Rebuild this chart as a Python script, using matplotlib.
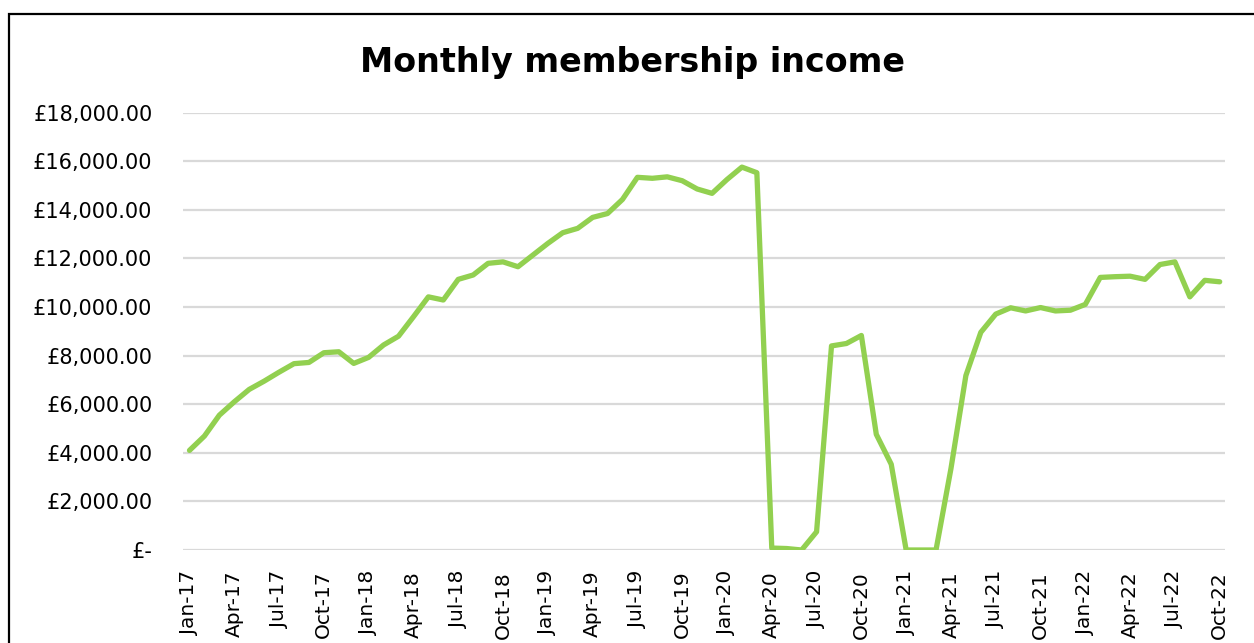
import matplotlib
matplotlib.use("Agg")
import matplotlib.pyplot as plt
from matplotlib.patches import Rectangle
from matplotlib.ticker import FuncFormatter

# month labels, Jan-17 .. Oct-22
month_names = ["Jan", "Feb", "Mar", "Apr", "May", "Jun", "Jul", "Aug", "Sep", "Oct", "Nov", "Dec"]
years = [17, 18, 19, 20, 21, 22]
months = []
for yr in years:
    for m in month_names:
        months.append(m + "-" + str(yr))
months = months[:70]

# monthly membership income in GBP
income = [4100, 4690, 5550, 6100, 6610, 6950, 7320, 7670, 7720, 8120, 8160, 7680,
          7930, 8440, 8800, 9600, 10420, 10290, 11140, 11320, 11800, 11860, 11660, 12140,
          12620, 13060, 13240, 13690, 13850, 14430, 15340, 15300, 15360, 15200, 14860, 14680,
          15250, 15760, 15530, 80, 60, 0, 750, 8400, 8500, 8830, 4760, 3530,
          0, 0, 0, 3350, 7180, 8960, 9710, 9970, 9840, 9980, 9840, 9870,
          10110, 11220, 11250, 11270, 11140, 11750, 11860, 10420, 11100, 11040]

y_ticks = [0, 2000, 4000, 6000, 8000, 10000, 12000, 14000, 16000, 18000]


def pounds(v, pos):
    if v == 0:
        return "£-"
    return "£{:,.2f}".format(v)


fig = plt.figure(figsize=(12.54, 6.43), dpi=100)
ax = fig.add_axes([183 / 1254, 1 - 550 / 643, (1225 - 183) / 1254, (550 - 112.7) / 643])

x_vals = list(range(len(months)))
ax.plot(x_vals, income, color="#92d050", linewidth=3.8,
        solid_joinstyle="round", solid_capstyle="round", zorder=3)

ax.set_xlim(-0.435, 69.355)
ax.set_ylim(0, 18000)
ax.set_yticks(y_ticks)
ax.yaxis.set_major_formatter(FuncFormatter(pounds))
ax.set_xticks(x_vals[::3])
ax.set_xticklabels(months[::3], rotation=90, ha="center", va="top")

ax.grid(axis="y", color="#d9d9d9", linewidth=1.6, zorder=0)
ax.set_axisbelow(True)
for s in ax.spines.values():
    s.set_visible(False)
ax.tick_params(axis="y", length=0, labelsize=15, colors="black", pad=22)
ax.tick_params(axis="x", length=0, labelsize=14.5, colors="black", pad=15)

fig.text(632.5 / 1254, 1 - 72 / 643, "Monthly membership income",
         ha="center", va="baseline", fontsize=24, fontweight="bold")

# chart border (cut off at right and bottom in the original)
fig.patches.append(Rectangle((9 / 1254, -0.2), 1.2, 1.2 - 14 / 643, transform=fig.transFigure,
                             fill=False, edgecolor="black", linewidth=1.6))

plt.savefig("out.png", dpi=100)
